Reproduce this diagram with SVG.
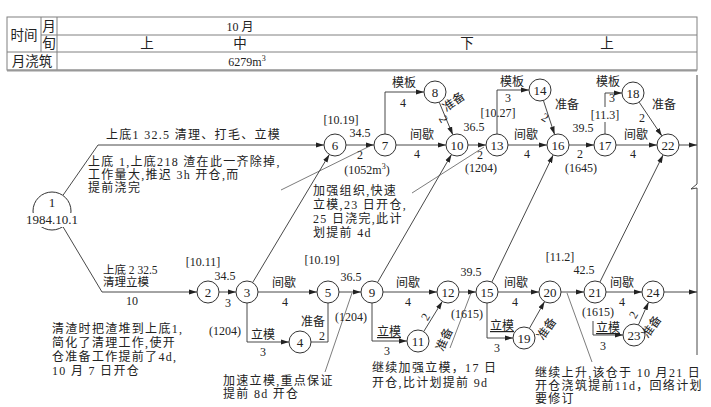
<svg xmlns="http://www.w3.org/2000/svg" width="711" height="407" viewBox="0 0 711 407">
<defs>
<marker id="ah" markerUnits="userSpaceOnUse" markerWidth="9" markerHeight="6" refX="8" refY="3" orient="auto"><path d="M0,0.5 L8,3 L0,5.5 z" fill="#222"/></marker>
</defs>
<style>
text{font-family:"Liberation Serif","Noto Sans CJK SC",serif;font-size:12px;fill:#222;}
.c{text-anchor:middle;}
.s{font-size:11.5px;}
.h{font-size:13.5px;}
.nt{font-size:13px;}
.an{font-size:12px;letter-spacing:1.3px;}
.tb{fill:none;stroke:#808080;stroke-width:1;}
.node circle{fill:#fff;stroke:#333;stroke-width:1;}
.e{fill:none;stroke:#333;stroke-width:0.9;}
.a{marker-end:url(#ah);}
.n{fill:none;stroke:#444;stroke-width:0.7;}
.u{text-decoration:underline;}
</style>
<rect width="711" height="407" fill="#fff"/>
<g id="table">
<rect class="tb" x="7" y="17" width="690" height="53"/>
<line class="tb" x1="41" y1="35" x2="697" y2="35"/>
<line class="tb" x1="7" y1="52" x2="697" y2="52"/>
<line class="tb" x1="41" y1="17" x2="41" y2="52"/>
<line class="tb" x1="57" y1="17" x2="57" y2="70"/>
<line x1="7" y1="70.5" x2="697" y2="70.5" stroke="#999" stroke-width="2"/>
<text class="c h" x="24" y="40">时间</text>
<text class="c h" x="49" y="31">月</text>
<text class="c h" x="49" y="48">旬</text>
<text class="c h" x="32" y="66">月浇筑</text>
<text class="c" x="240" y="31">10 月</text>
<text class="c h" x="147" y="48">上</text>
<text class="c h" x="240" y="48">中</text>
<text class="c h" x="467" y="48">下</text>
<text class="c h" x="607" y="48">上</text>
<text class="c" x="247" y="66">6279m<tspan font-size="8" dy="-5">3</tspan></text>
</g>
<g id="connectors">
<polyline class="e a" points="62.9,195.4 98,145 324,145"/>
<polyline class="e a" points="62.9,226.6 102,292 197,292"/>
<line class="e a" x1="219" y1="292" x2="236" y2="292"/>
<line class="e a" x1="258" y1="292" x2="317" y2="292"/>
<polyline class="e a" points="247,303 247,342 289,342"/>
<polyline class="e" points="311,342 328,342 328,303"/>
<line class="e a" x1="339" y1="292" x2="361" y2="292"/>
<line class="e a" x1="252.6" y1="282.6" x2="329.4" y2="154.4"/>
<line class="e a" x1="346" y1="145" x2="374" y2="145"/>
<polyline class="e a" points="385,134 385,92 424,92"/>
<line class="e a" x1="396" y1="145" x2="446" y2="145"/>
<line class="e a" x1="439.2" y1="102.2" x2="452.8" y2="134.8"/>
<line class="e a" x1="377.5" y1="282.5" x2="451.5" y2="154.5"/>
<line class="e a" x1="468" y1="145" x2="486" y2="145"/>
<polyline class="e a" points="497,134 497,90 529,90"/>
<line class="e a" x1="508" y1="145" x2="547" y2="145"/>
<line class="e a" x1="543.4" y1="100.5" x2="554.6" y2="134.5"/>
<line class="e a" x1="491.8" y1="282.1" x2="553.2" y2="154.9"/>
<line class="e a" x1="569" y1="145" x2="594" y2="145"/>
<line class="e" x1="605" y1="134" x2="605" y2="122"/>
<polyline class="e a" points="605,107 605,93 622,93"/>
<line class="e a" x1="616" y1="145" x2="657" y2="145"/>
<line class="e a" x1="639.1" y1="102.1" x2="661.9" y2="135.9"/>
<line class="e a" x1="599.9" y1="282.1" x2="663.1" y2="154.9"/>
<line class="e a" x1="679" y1="145" x2="697" y2="145"/>
<line class="e a" x1="383" y1="292" x2="437" y2="292"/>
<polyline class="e a" points="372,303 372,341 407,341"/>
<line class="e a" x1="423.7" y1="331.6" x2="442.3" y2="301.4"/>
<line class="e a" x1="459" y1="292" x2="476" y2="292"/>
<line class="e a" x1="498" y1="292" x2="539" y2="292"/>
<polyline class="e a" points="487,303 487,338 513,338"/>
<line class="e a" x1="529.4" y1="328.4" x2="544.6" y2="301.6"/>
<line class="e a" x1="561" y1="292" x2="584" y2="292"/>
<line class="e a" x1="606" y1="292" x2="642" y2="292"/>
<polyline class="e a" points="593,321 593,335 623,335"/>
<line class="e a" x1="638.4" y1="324.9" x2="648.6" y2="302.1"/>
<line class="e a" x1="664" y1="292" x2="697" y2="292"/>
<line class="n" x1="281" y1="190" x2="370" y2="146"/>
<line class="n" x1="412" y1="193" x2="484" y2="147"/>
<line class="n" x1="325" y1="372" x2="352" y2="293"/>
<line class="n" x1="450" y1="348" x2="471" y2="293"/>
<line class="n" x1="567" y1="293" x2="592" y2="362"/>
<polyline class="e" points="697,75 697,184 691,189 697,188 697,355"/>
</g>
<g id="n1" class="node"><circle cx="52" cy="211" r="19"/><rect x="18" y="213" width="68" height="14" fill="#fff"/><text class="c nt" x="52" y="207">1</text><text class="c nt" x="52" y="224">1984.10.1</text></g>
<g id="n2" class="node"><circle cx="208" cy="292" r="11"/><text class="c nt" x="208" y="297">2</text></g>
<g id="n3" class="node"><circle cx="247" cy="292" r="11"/><text class="c nt" x="247" y="297">3</text></g>
<g id="n4" class="node"><circle cx="300" cy="342" r="11"/><text class="c nt" x="300" y="347">4</text></g>
<g id="n5" class="node"><circle cx="328" cy="292" r="11"/><text class="c nt" x="328" y="297">5</text></g>
<g id="n6" class="node"><circle cx="335" cy="145" r="11"/><text class="c nt" x="335" y="150">6</text></g>
<g id="n7" class="node"><circle cx="385" cy="145" r="11"/><text class="c nt" x="385" y="150">7</text></g>
<g id="n8" class="node"><circle cx="435" cy="92" r="11"/><text class="c nt" x="435" y="97">8</text></g>
<g id="n9" class="node"><circle cx="372" cy="292" r="11"/><text class="c nt" x="372" y="297">9</text></g>
<g id="n10" class="node"><circle cx="457" cy="145" r="11"/><text class="c nt" x="457" y="150">10</text></g>
<g id="n11" class="node"><circle cx="418" cy="341" r="11"/><text class="c nt" x="418" y="346">11</text></g>
<g id="n12" class="node"><circle cx="448" cy="292" r="11"/><text class="c nt" x="448" y="297">12</text></g>
<g id="n13" class="node"><circle cx="497" cy="145" r="11"/><text class="c nt" x="497" y="150">13</text></g>
<g id="n14" class="node"><circle cx="540" cy="90" r="11"/><text class="c nt" x="540" y="95">14</text></g>
<g id="n15" class="node"><circle cx="487" cy="292" r="11"/><text class="c nt" x="487" y="297">15</text></g>
<g id="n16" class="node"><circle cx="558" cy="145" r="11"/><text class="c nt" x="558" y="150">16</text></g>
<g id="n17" class="node"><circle cx="605" cy="145" r="11"/><text class="c nt" x="605" y="150">17</text></g>
<g id="n18" class="node"><circle cx="633" cy="93" r="11"/><text class="c nt" x="633" y="98">18</text></g>
<g id="n19" class="node"><circle cx="524" cy="338" r="11"/><text class="c nt" x="524" y="343">19</text></g>
<g id="n20" class="node"><circle cx="550" cy="292" r="11"/><text class="c nt" x="550" y="297">20</text></g>
<g id="n21" class="node"><circle cx="595" cy="292" r="11"/><text class="c nt" x="595" y="297">21</text></g>
<g id="n22" class="node"><circle cx="668" cy="145" r="11"/><text class="c nt" x="668" y="150">22</text></g>
<g id="n23" class="node"><circle cx="634" cy="335" r="11"/><text class="c nt" x="634" y="340">23</text></g>
<g id="n24" class="node"><circle cx="653" cy="292" r="11"/><text class="c nt" x="653" y="297">24</text></g>
<g id="labels">
<text class="an" x="106" y="139">上底1 32.5 清理、打毛、立模</text>
<text class="s" x="103" y="274">上底 2 32.5</text>
<text class="s" x="103" y="286">清理立模</text>
<text class="c" x="132" y="305">10</text>
<text class="c" x="203" y="266">[10.11]</text>
<text class="c" x="225" y="280">34.5</text>
<text class="c" x="228" y="307">3</text>
<text class="c" x="284" y="287">间歇</text>
<text class="c" x="285" y="306">4</text>
<text class="c" x="322" y="264">[10.19]</text>
<text class="c" x="351" y="281">36.5</text>
<text class="c" x="225" y="335">(1204)</text>
<text class="c" x="263" y="339">立模</text>
<text class="c" x="263" y="356">3</text>
<text class="c" x="313" y="326">准备</text>
<text class="c" x="322" y="340">2</text>
<text class="c" x="351" y="321">(1204)</text>
<text class="c" x="341" y="124">[10.19]</text>
<text class="c" x="360" y="137">34.5</text>
<text class="c" x="360" y="159">2</text>
<text class="c" x="367" y="174">(1052m<tspan font-size="8" dy="-5">3</tspan><tspan dy="5">)</tspan></text>
<text class="c" x="404" y="87">模板</text>
<text class="c" x="403" y="107">4</text>
<text class="c" x="422" y="139">间歇</text>
<text class="c" x="417" y="158">4</text>
<text class="c" transform="translate(456,105) rotate(-35)">准备</text>
<text class="c" transform="translate(440,121) rotate(60)">2</text>
<text class="c" x="498" y="117">[10.27]</text>
<text class="c" x="474" y="131">36.5</text>
<text class="c" x="480" y="159">2</text>
<text class="c" x="481" y="172">(1204)</text>
<text class="c" x="512" y="86">模板</text>
<text class="c" x="508" y="102">3</text>
<text class="c" x="526" y="139">间歇</text>
<text class="c" x="527" y="158">4</text>
<text class="c" x="567" y="109">准备</text>
<text class="c" transform="translate(543,121) rotate(30)">2</text>
<text class="c" x="583" y="132">39.5</text>
<text class="c" x="605" y="119">[11.3]</text>
<text class="c" x="580" y="158">2</text>
<text class="c" x="581" y="172">(1645)</text>
<text class="c" x="608" y="86">模板</text>
<text class="c" x="612" y="102">3</text>
<text class="c" x="636" y="139">间歇</text>
<text class="c" x="633" y="158">4</text>
<text class="c" x="664" y="109">准备</text>
<text class="c" x="642" y="122">2</text>
<text class="c" x="408" y="287">间歇</text>
<text class="c" x="408" y="306">4</text>
<text class="c u" x="389" y="336">立模</text>
<text class="c" x="387" y="355">3</text>
<text class="c" transform="translate(429,319) rotate(-60)">2</text>
<text class="c" x="471" y="276">39.5</text>
<text class="c" x="467" y="318">(1615)</text>
<text class="c" transform="translate(448,341) rotate(-65)">准备</text>
<text class="c" x="516" y="287">间歇</text>
<text class="c" x="515" y="306">4</text>
<text class="c u" x="502" y="330">立模</text>
<text class="c" x="497" y="352">3</text>
<text class="c" transform="translate(550,331) rotate(-55)">准备</text>
<text class="c" x="560" y="261">[11.2]</text>
<text class="c" x="584" y="274">42.5</text>
<text class="c" x="598" y="316">(1615)</text>
<text class="c" x="622" y="287">间歇</text>
<text class="c" x="622" y="306">4</text>
<text class="c u" x="608" y="332">立模</text>
<text class="c" x="603" y="350">3</text>
<text class="c" transform="translate(637,317) rotate(-60)">2</text>
<text class="c" transform="translate(655,329) rotate(-55)">准备</text>
</g>
<g id="notes">
<text class="an" x="88" y="166">上底 1,上底218 渣在此一齐除掉,</text>
<text class="an" x="88" y="179">工作量大,推迟 3h 开仓,而</text>
<text class="an" x="88" y="192">提前浇完</text>
<text class="an" x="313" y="195">加强组织,快速</text>
<text class="an" x="313" y="209">立模,23 日开仓,</text>
<text class="an" x="313" y="223">25 日浇完,此计</text>
<text class="an" x="313" y="237">划提前 4d</text>
<text class="an" x="52" y="333">清渣时把渣堆到上底1,</text>
<text class="an" x="52" y="347">简化了清理工作,使开</text>
<text class="an" x="52" y="361">仓准备工作提前了4d,</text>
<text class="an" x="52" y="375">10 月 7 日开仓</text>
<text class="an" x="223" y="385">加速立模,重点保证</text>
<text class="an" x="223" y="398">提前 8d 开仓</text>
<text class="an" x="372" y="372">继续加强立模，17 日</text>
<text class="an" x="372" y="387">开仓,比计划提前 9d</text>
<text class="an" x="535" y="377">继续上升,该仓于 10 月21 日</text>
<text class="an" x="535" y="390">开仓浇筑提前11d，回络计划</text>
<text class="an" x="535" y="403">要修订</text>
</g>
</svg>
